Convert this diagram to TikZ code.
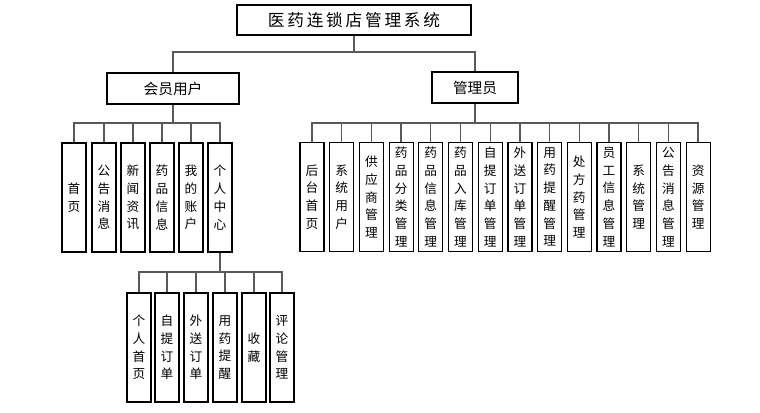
\documentclass[tikz,border=0pt]{standalone}
\usepackage{fontspec}
\newfontfamily\cjk{Noto Sans CJK SC}
\begin{document}
\begin{tikzpicture}[x=0.75pt,y=-0.75pt,
  box/.style={draw=black,line width=0.9pt,fill=white,inner sep=0pt,font=\cjk},
  leaf/.style={box,minimum width=18pt,minimum height=81.75pt,align=center,
    font=\cjk\fontsize{9.5}{13.3}\selectfont},
  conn/.style={draw=black!65,line width=1pt}]
\useasboundingbox (0,0) rectangle (760,412);
\node[box,minimum width=175.5pt,minimum height=22.5pt,font=\cjk\fontsize{12.5}{14}\selectfont] (top) at (354,20) {医\,药\,连\,锁\,店\,管\,理\,系\,统};
\node[box,minimum width=99pt,minimum height=23.25pt,font=\cjk\fontsize{11}{13}\selectfont] (user) at (173,88.5) {会员用户};
\node[box,minimum width=64.5pt,minimum height=23.25pt,font=\cjk\fontsize{11}{13}\selectfont] (admin) at (475,87.5) {管理员};
\coordinate (b0) at (354,52);
\coordinate (b1) at (173,123);
\coordinate (b2) at (475,123);
\coordinate (b3) at (220,272);
\draw[conn] (top.south) -- (b0);
\draw[conn] (b0) -| (user.north);
\draw[conn] (b0) -| (admin.north);
\draw[conn] (user.south) -- (b1);
\draw[conn] (admin.south) -- (b2);
% user children
\foreach \x/\n/\t in {74/u1/首\\页,104/u2/公\\告\\消\\息,133/u3/新\\闻\\资\\讯,162/u4/药\\品\\信\\息,191/u5/我\\的\\账\\户,220/u6/个\\人\\中\\心}{
  \node[leaf] (\n) at (\x,197.5) {\t};
  \draw[conn] (b1) -| (\n.north);
}
% admin children
\foreach \i/\n/\t in {0/a1/后\\台\\首\\页,1/a2/系\\统\\用\\户,2/a3/供\\应\\商\\管\\理,3/a4/药\\品\\分\\类\\管\\理,4/a5/药\\品\\信\\息\\管\\理,5/a6/药\\品\\入\\库\\管\\理,6/a7/自\\提\\订\\单\\管\\理,7/a8/外\\送\\订\\单\\管\\理,8/a9/用\\药\\提\\醒\\管\\理,9/a10/处\\方\\药\\管\\理,10/a11/员\\工\\信\\息\\管\\理,11/a12/系\\统\\管\\理,12/a13/公\\告\\消\\息\\管\\理,13/a14/资\\源\\管\\理}{
  \node[leaf] (\n) at ({312+\i*29.7},197) {\t};
  \draw[conn] (b2) -| (\n.north);
}
\draw[conn] (u6.south) -- (b3);
% sub children
\foreach \x/\n/\t in {139/s1/个\\人\\首\\页,167/s2/自\\提\\订\\单,196/s3/外\\送\\订\\单,225/s4/用\\药\\提\\醒,254/s5/收\\藏,282/s6/评\\论\\管\\理}{
  \node[leaf] (\n) at (\x,347.5) {\t};
  \draw[conn] (b3) -| (\n.north);
}
\end{tikzpicture}
\end{document}
